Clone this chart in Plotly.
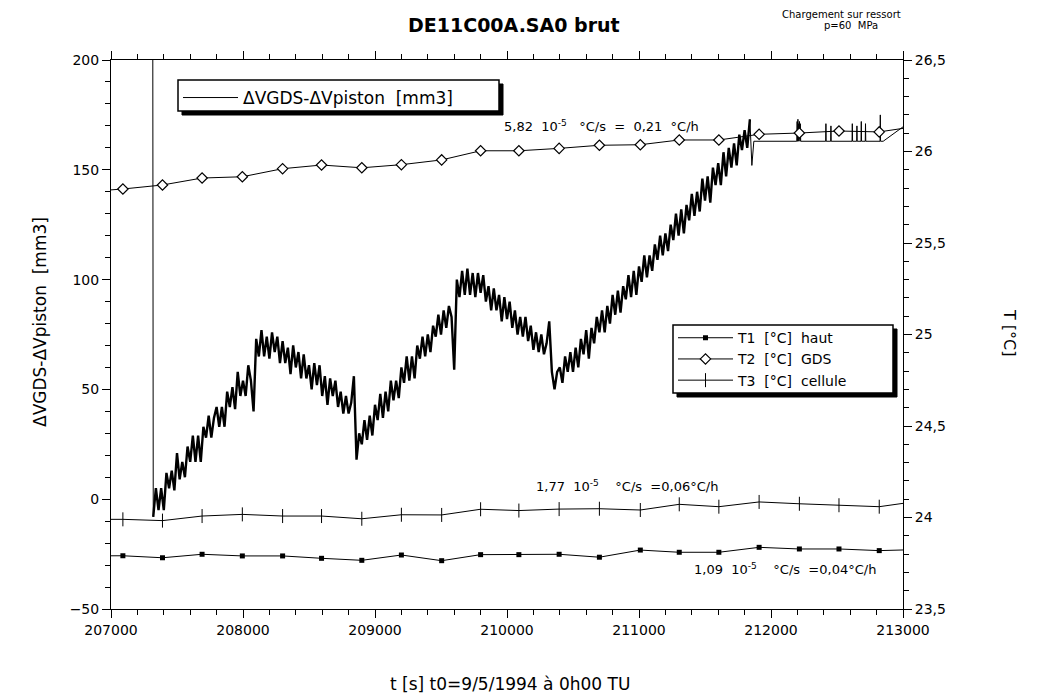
import plotly.graph_objects as go

FONT = "DejaVu Sans"

# ---------------- data ----------------
# start of the volume record (the jump at switch-on)
head_t = [207316, 207320]
head_v = [250, -8]

# Volume difference, regular sampling starting at vol_t0 every vol_dt seconds
vol_t0 = 207320
vol_dt = 20
vol_values = [
    -8, 5, -5, 5, -5, 12, 5, 13, 4, 21,
    9, 17, 10, 24, 17, 29, 17, 29, 17, 33,
    28, 38, 28, 37, 42, 33, 42, 33, 49, 42,
    51, 41, 58, 47, 54, 47, 61, 54,
    40,
    73, 65, 77, 65, 74, 64, 76, 67, 74, 62,
    72, 62, 69, 57, 70, 60, 67, 55, 66, 55,
    61, 50, 62, 52, 61, 47, 56, 43, 55, 47,
    54, 42, 49, 39, 47, 39, 44,
    56, 18, 30,
    25, 36, 27, 38, 29, 43, 36, 48, 37, 49,
    40, 54, 45, 54, 46, 60, 53, 65, 54, 65,
    55, 70, 64, 74, 65, 75, 67, 79, 74, 84,
    75, 86, 78, 88, 83,
    59,
    100, 92, 104, 93, 105, 93, 103, 92, 103, 94,
    102, 90, 97, 86, 96, 86, 93, 81, 92, 82,
    90, 78, 86, 75, 83, 74, 83, 72, 79, 68,
    76, 67, 75, 66, 71,
    81, 58, 50, 58,
    60, 53, 65, 58, 67, 58, 69, 60, 73, 66,
    77, 64, 78, 71, 83, 76, 86, 76, 88, 80,
    93, 84, 95, 85, 97, 91, 102, 92, 104, 93,
    106, 99, 111, 101, 111, 104, 116, 109, 120, 111,
    121, 113, 125, 118, 130, 120, 132, 121, 134, 127,
    139, 129, 140, 131, 146, 136, 147, 135, 151, 143,
    153, 143, 158, 147, 160, 151, 162, 152, 166, 159,
    168, 160, 173,
]

# end of the volume record (irregular times)
tail_t = [211840, 211855, 211870,
          212195, 212198, 212201, 212204, 212207, 212210, 212213, 212216, 212219, 212222, 212225,
          212414, 212416, 212418, 212452, 212454, 212456,
          212614, 212616, 212618, 212649, 212651, 212653,
          212682, 212684, 212686, 212714, 212716, 212718,
          212826, 212828, 212830, 212850, 213010]
tail_v = [173, 152, 163,
          163, 172, 163, 173, 163, 171, 164, 172, 163, 171, 163,
          163, 171, 163, 163, 170, 163,
          163, 171, 163, 163, 170, 163,
          163, 172, 163, 163, 171, 163,
          163, 175, 163, 163, 170]

# Temperatures
temp_t = [206790, 207090, 207390, 207690, 207995, 208300, 208595, 208900, 209200, 209505,
          209800, 210090, 210395, 210700, 211010, 211305, 211605, 211910, 212215, 212515,
          212820, 213125]
T1 = [23.79, 23.791, 23.780, 23.799, 23.790, 23.790, 23.777, 23.766, 23.795, 23.764,
      23.797, 23.797, 23.799, 23.783, 23.822, 23.810, 23.810, 23.837, 23.828, 23.828,
      23.819, 23.825]
T2 = [25.779, 25.795, 25.817, 25.855, 25.862, 25.906, 25.926, 25.911, 25.928, 25.954,
      26.004, 26.004, 26.017, 26.034, 26.037, 26.063, 26.063, 26.094, 26.101, 26.112,
      26.107, 26.14]
T3 = [23.99, 23.990, 23.983, 24.008, 24.017, 24.008, 24.008, 23.993, 24.015, 24.014,
      24.045, 24.038, 24.046, 24.048, 24.041, 24.072, 24.059, 24.085, 24.075, 24.067,
      24.059, 24.09]

x_range = [207000, 213000]
y_range = [-50, 200]
y2_range = [23.5, 26.5]

NB = "\u00a0"
PAGE_OFF = 8  # body margin of the html page

fig = go.Figure()

fig.add_trace(go.Scatter(
    x=head_t, y=head_v, mode="lines",
    line=dict(color="black", width=1),
    showlegend=False, legendgroup="vol", yaxis="y"))
fig.add_trace(go.Scatter(
    x0=vol_t0, dx=vol_dt, y=vol_values, mode="lines",
    line=dict(color="black", width=2.4),
    showlegend=False, legendgroup="vol", yaxis="y"))
fig.add_trace(go.Scatter(
    x=tail_t, y=tail_v, mode="lines",
    line=dict(color="black", width=1),
    name="ΔVGDS-ΔVpiston" + NB * 2 + "[mm3]", legend="legend",
    legendgroup="vol", yaxis="y"))

fig.add_trace(go.Scatter(
    x=temp_t, y=T1, mode="lines+markers", yaxis="y2",
    line=dict(color="black", width=1),
    marker=dict(symbol="square", size=5, color="black"),
    name="T1" + NB * 2 + "[°C]" + NB * 2 + "haut", legend="legend2"))
fig.add_trace(go.Scatter(
    x=temp_t, y=T2, mode="lines+markers", yaxis="y2",
    line=dict(color="black", width=1),
    marker=dict(symbol="diamond", size=8, color="white",
                line=dict(color="black", width=1.2)),
    name="T2" + NB * 2 + "[°C]" + NB * 2 + "GDS", legend="legend2"))
fig.add_trace(go.Scatter(
    x=temp_t, y=T3, mode="lines+markers", yaxis="y2",
    line=dict(color="black", width=1),
    marker=dict(symbol="line-ns", size=10, color="black",
                line=dict(color="black", width=1)),
    name="T3" + NB * 2 + "[°C]" + NB * 2 + "cellule", legend="legend2"))

axis_common = dict(
    showline=True, linecolor="black", linewidth=1,
    showgrid=False, zeroline=False,
    ticks="outside", ticklen=8, tickcolor="black", tickwidth=1,
    tickfont=dict(family=FONT, size=14, color="black"),
)

fig.update_layout(
    width=1037 - PAGE_OFF, height=697 - PAGE_OFF,
    margin=dict(l=111 - PAGE_OFF, r=134, t=60 - PAGE_OFF, b=88),
    paper_bgcolor="white", plot_bgcolor="white",
    separators=", ",
    font=dict(family=FONT, color="black"),
    xaxis=dict(range=x_range, dtick=1000, tickformat="d", mirror="ticks",
               minor=dict(dtick=200, ticklen=5, ticks="outside", tickcolor="black"),
               **axis_common),
    yaxis=dict(range=y_range, dtick=50,
               minor=dict(dtick=10, ticklen=5, ticks="outside", tickcolor="black"),
               **axis_common),
    yaxis2=dict(range=y2_range, dtick=0.5, overlaying="y", side="right",
                minor=dict(dtick=0.1, ticklen=5, ticks="outside", tickcolor="black"),
                **axis_common),
    legend=dict(x=0.0846, y=0.9636, xanchor="left", yanchor="top",
                bgcolor="rgba(0,0,0,0)", borderwidth=0, itemwidth=55,
                font=dict(family=FONT, size=17, color="black")),
    legend2=dict(x=0.7096, y=0.5225, xanchor="left", yanchor="top",
                 bgcolor="rgba(0,0,0,0)", borderwidth=0, itemwidth=55,
                 tracegroupgap=0,
                 font=dict(family=FONT, size=14, color="black")),
    showlegend=True,
)

def px2paper(px, py):
    return (px - 111) / 792, (609 - py) / 549

shapes = []
for (bx0, by0, bx1, by1) in [(178, 80, 499, 111), (673, 325, 893, 393)]:
    sx0, sy0 = px2paper(bx0 + 4, by1 + 4)
    sx1, sy1 = px2paper(bx1 + 4, by0 + 4)
    shapes.append(dict(type="rect", xref="paper", yref="paper", layer="above",
                       x0=sx0, y0=sy0, x1=sx1, y1=sy1,
                       fillcolor="black", line=dict(color="black", width=1)))
    x0, y0 = px2paper(bx0, by1)
    x1, y1 = px2paper(bx1, by0)
    shapes.append(dict(type="rect", xref="paper", yref="paper", layer="above",
                       x0=x0, y0=y0, x1=x1, y1=y1,
                       fillcolor="white", line=dict(color="black", width=1.5)))
fig.update_layout(shapes=shapes)

ann = []
def add_text(px, py, text, size, xanchor="center", angle=0, bold=False):
    x, y = px2paper(px, py)
    ann.append(dict(x=x, y=y, xref="paper", yref="paper", text=text,
                    showarrow=False, xanchor=xanchor, yanchor="middle",
                    textangle=angle,
                    font=dict(family=FONT, size=size, color="black",
                              weight="bold" if bold else "normal")))

add_text(514, 25, "DE11C00A.SA0 brut", 19, bold=True)
add_text(841, 15, "Chargement sur ressort", 10)
add_text(851, 25, "p=60" + NB * 2 + "MPa", 10)
add_text(40, 322, "ΔVGDS-ΔVpiston" + NB * 2 + "[mm3]", 17, angle=-90)
add_text(1010, 333, "T [°C]", 16, angle=90)
add_text(510, 684, "t [s] t0=9/5/1994 à 0h00 TU", 17)
add_text(502, 126, "5,82" + NB * 2 + "10<sup>-5</sup>" + NB * 3 + "°C/s" + NB * 2 + "=" + NB * 2 + "0,21" + NB * 2 + "°C/h", 13, xanchor="left")
add_text(534, 486, "1,77" + NB * 2 + "10<sup>-5</sup>" + NB * 4 + "°C/s" + NB * 2 + "=0,06°C/h", 13, xanchor="left")
add_text(692, 569, "1,09" + NB * 2 + "10<sup>-5</sup>" + NB * 4 + "°C/s" + NB * 2 + "=0,04°C/h", 13, xanchor="left")
fig.update_layout(annotations=ann)

fig.write_html("out.html")
